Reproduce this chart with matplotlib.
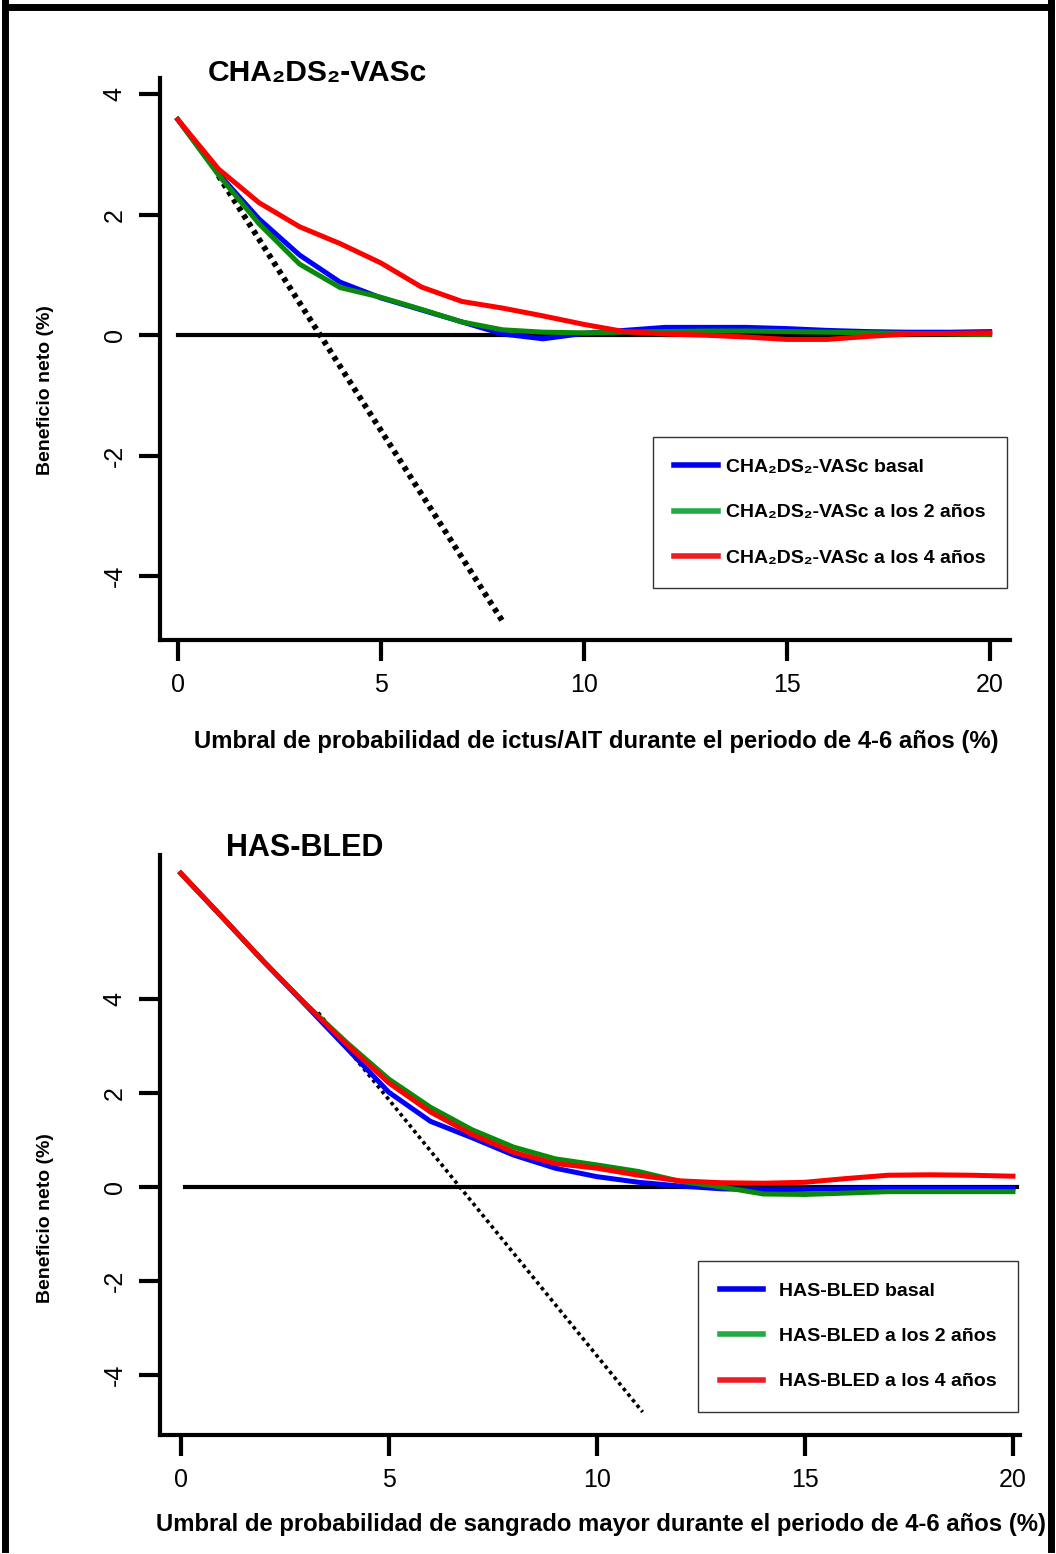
import matplotlib
matplotlib.use("Agg")
import matplotlib.pyplot as plt
from matplotlib.lines import Line2D
import numpy as np

plt.rcParams['font.family'] = ['Liberation Sans', 'DejaVu Sans']
plt.rcParams['axes.unicode_minus'] = False

# umbral (%)
x = list(range(21))

# CHA2DS2-VASc: beneficio neto (%)
cha_basal = [3.58, 2.68, 1.93, 1.33, 0.88, 0.62, 0.42, 0.22, 0.02, -0.06, 0.03,
             0.08, 0.13, 0.13, 0.13, 0.11, 0.08, 0.06, 0.05, 0.05, 0.06]
cha_2a = [3.58, 2.66, 1.85, 1.18, 0.79, 0.63, 0.43, 0.22, 0.09, 0.05, 0.04,
          0.05, 0.06, 0.07, 0.07, 0.06, 0.05, 0.04, 0.03, 0.02, 0.01]
cha_4a = [3.58, 2.76, 2.20, 1.80, 1.52, 1.20, 0.80, 0.56, 0.45, 0.32, 0.18,
          0.06, 0.02, 0.00, -0.03, -0.07, -0.07, -0.02, 0.02, 0.03, 0.04]
cha_todos_x = [1.0, 8.0]
cha_todos_y = [2.65, -4.75]

# HAS-BLED: beneficio neto (%)
has_basal = [6.69, 5.75, 4.80, 3.88, 2.95, 2.02, 1.40, 1.05, 0.68, 0.40, 0.22,
             0.10, 0.02, -0.04, -0.06, -0.05, -0.04, -0.03, -0.03, -0.03, -0.03]
has_2a = [6.69, 5.75, 4.80, 3.90, 3.07, 2.30, 1.70, 1.22, 0.85, 0.60, 0.47,
          0.33, 0.12, 0.00, -0.15, -0.16, -0.13, -0.10, -0.10, -0.10, -0.10]
has_4a = [6.69, 5.75, 4.80, 3.90, 3.03, 2.22, 1.60, 1.12, 0.74, 0.50, 0.40,
          0.25, 0.13, 0.09, 0.08, 0.10, 0.18, 0.25, 0.26, 0.25, 0.23]
has_todos_x = [3.3, 11.1]
has_todos_y = [3.72, -4.8]

cha_labels = ['CHA₂DS₂-VASc basal', 'CHA₂DS₂-VASc a los 2 años',
              'CHA₂DS₂-VASc a los 4 años']
has_labels = ['HAS-BLED basal', 'HAS-BLED a los 2 años', 'HAS-BLED a los 4 años']

line_cols = ['#0000ff', '#0a8a0a', '#ff0000']
leg_cols = ['#0000ee', '#22aa44', '#ee1c24']

W, H = 1056, 1554
fig = plt.figure(figsize=(W / 100, H / 100), dpi=100)


def style_axes(ax):
    for s in ['top', 'right']:
        ax.spines[s].set_visible(False)
    for s in ['left', 'bottom']:
        ax.spines[s].set_linewidth(3)
    ax.tick_params(width=3, length=15, labelsize=18, pad=9)
    ax.tick_params(axis='y', labelrotation=90)
    for t in ax.get_yticklabels():
        t.set_va('center')


def legend(ax, labels, anchor, textpad):
    handles = [Line2D([0], [0], color=c, lw=4) for c in leg_cols]
    lg = ax.legend(handles, labels, loc='upper right', bbox_to_anchor=anchor,
                   frameon=True, fancybox=False, edgecolor='black',
                   prop={'weight': 'bold', 'size': 14}, handlelength=2.25,
                   handletextpad=textpad, labelspacing=1.42, borderpad=1.1,
                   borderaxespad=0)
    lg.get_frame().set_linewidth(1)


# panel superior
ax1 = fig.add_axes([160 / W, 1 - 640 / H, 850 / W, 562 / H])
ax1.plot(cha_todos_x, cha_todos_y, color='black', lw=4.2, ls=(0, (0.8, 0.8)), zorder=1)
ax1.plot([0, 20], [0, 0], color='black', lw=3, zorder=2)
for yv, c in zip([cha_basal, cha_2a, cha_4a], line_cols):
    ax1.plot(x, yv, color=c, lw=3.6, zorder=3)
ax1.set_xlim(-0.44, 20.5)
ax1.set_ylim(-5.06, 4.27)
ax1.set_xticks([0, 5, 10, 15, 20])
ax1.set_yticks([-4, -2, 0, 2, 4])
style_axes(ax1)
legend(ax1, cha_labels, (0.9965, 0.361), 0.4)

# panel inferior
ax2 = fig.add_axes([160 / W, 1 - 1435 / H, 860 / W, 580 / H])
ax2.plot(has_todos_x, has_todos_y, color='black', lw=2.6, ls=(0, (1, 1)), zorder=1)
ax2.plot([0.1, 20.1], [0, 0], color='black', lw=3, zorder=2)
for yv, c in zip([has_basal, has_2a, has_4a], line_cols):
    ax2.plot(x, yv, color=c, lw=3.6, zorder=3)
ax2.set_xlim(-0.5, 20.17)
ax2.set_ylim(-5.29, 7.08)
ax2.set_xticks([0, 5, 10, 15, 20])
ax2.set_yticks([-4, -2, 0, 2, 4])
style_axes(ax2)
legend(ax2, has_labels, (0.9977, 0.30), 0.8)

# textos
fig.text(208 / W, 1 - 73 / H, 'CHA₂DS₂-VASc', fontsize=21.6, fontweight='bold',
         ha='left', va='center')
fig.text(226 / W, 1 - 848 / H, 'HAS-BLED', fontsize=22, fontweight='bold',
         ha='left', va='center')
fig.text(596 / W, 1 - 741 / H,
         'Umbral de probabilidad de ictus/AIT durante el periodo de 4-6 años (%)',
         fontsize=17.2, fontweight='bold', ha='center', va='center')
fig.text(601 / W, 1 - 1524 / H,
         'Umbral de probabilidad de sangrado mayor durante el periodo de 4-6 años (%)',
         fontsize=17.2, fontweight='bold', ha='center', va='center')
for yc in [390, 1218]:
    fig.text(46 / W, 1 - yc / H, 'Beneficio neto (%)', fontsize=14,
             fontweight='bold', rotation=90, ha='center', va='center')

# marco
for xs, ys in [([5, 5], [0, 1549]), ([5, 1051], [7, 7]), ([1051, 1051], [0, 1549])]:
    fig.add_artist(Line2D([v / W for v in xs], [1 - v / H for v in ys],
                          color='black', lw=5))

fig.savefig('out.png', dpi=100)
